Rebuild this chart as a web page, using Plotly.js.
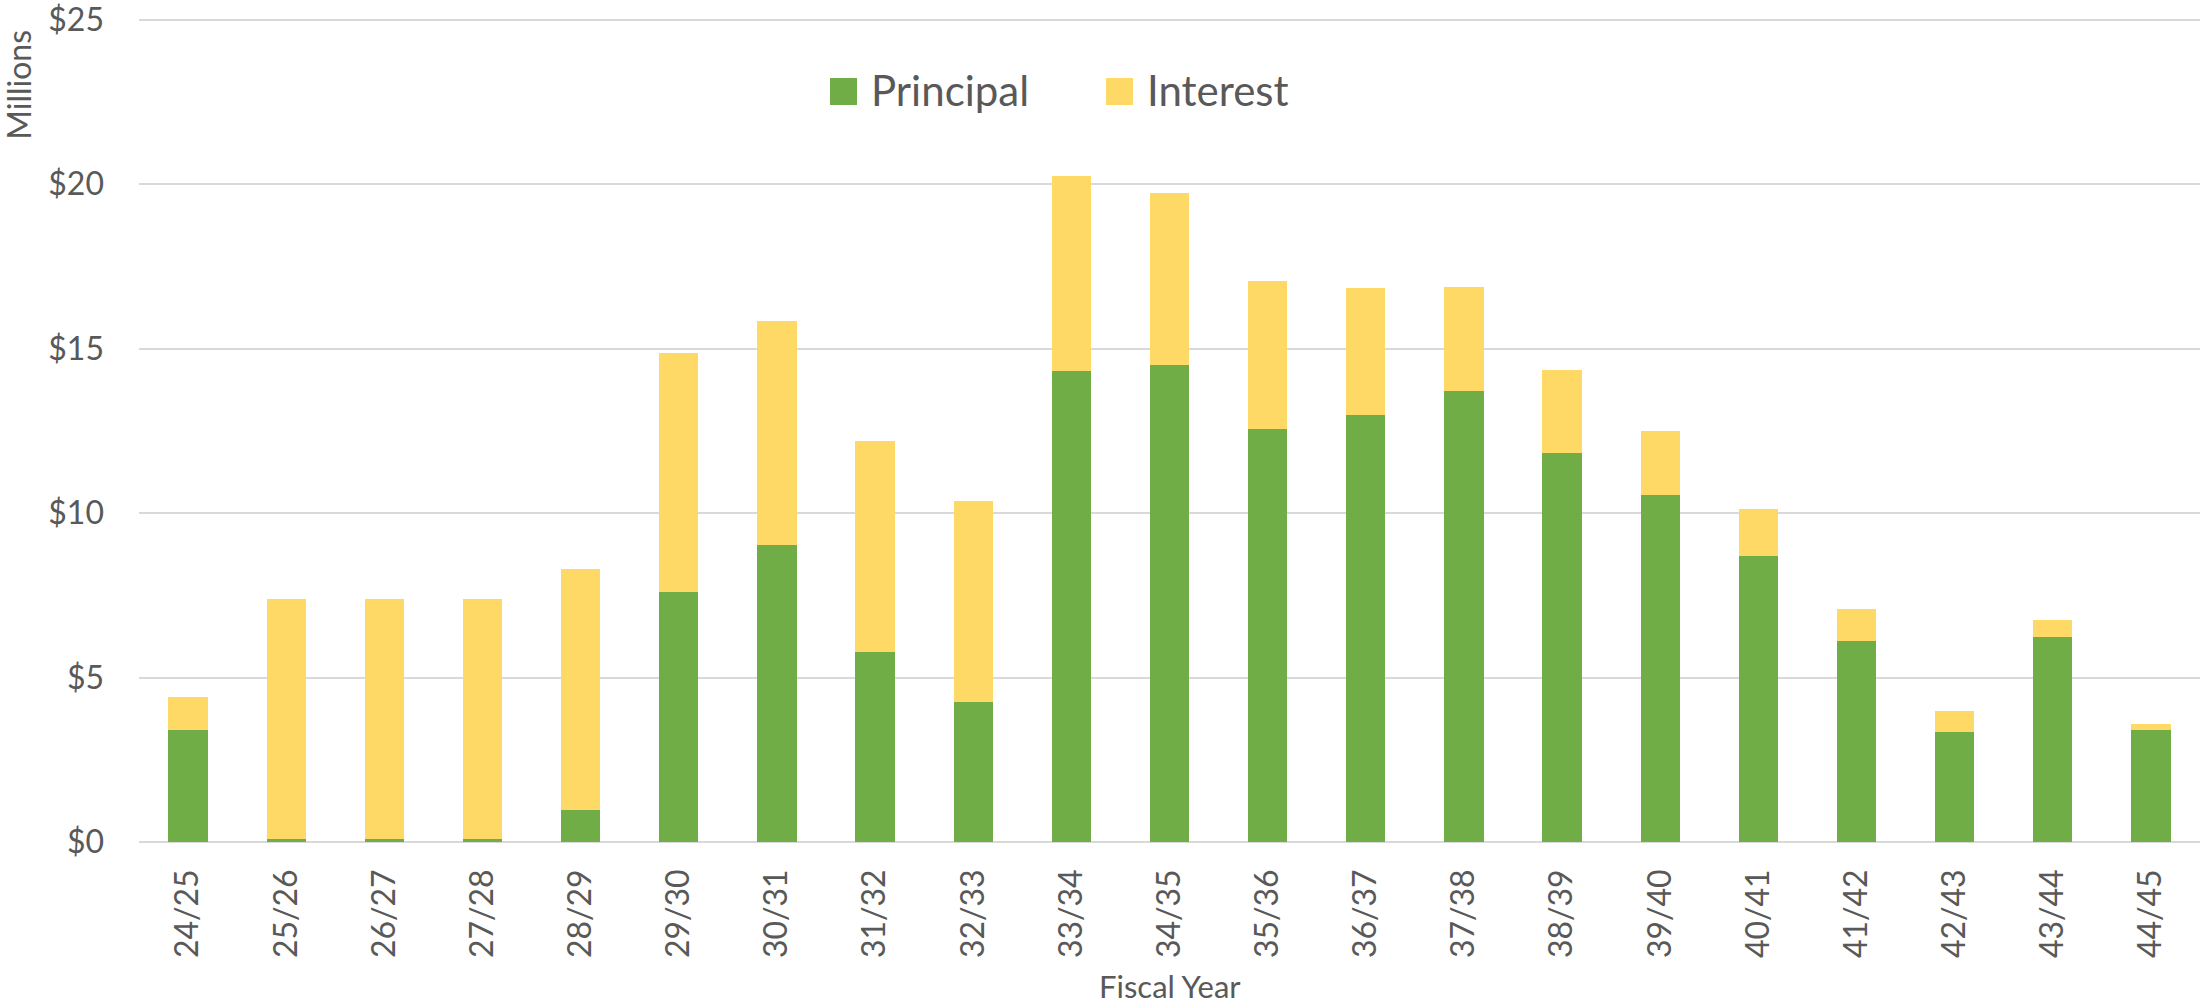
<!DOCTYPE html>
<html>
<head>
<meta charset="utf-8">
<script src="https://cdn.plot.ly/plotly-3.0.1.min.js"></script>
<style>html,body{margin:0;padding:0;background:#fff;}#chart{width:2203px;height:1004px;}</style>
</head>
<body>
<div id="chart"></div>
<script>
const fiscalYears = ["24/25","25/26","26/27","27/28","28/29","29/30","30/31","31/32","32/33","33/34","34/35","35/36","36/37","37/38","38/39","39/40","40/41","41/42","42/43","43/44","44/45"];
const principal = [3.42,0.1,0.1,0.1,0.98,7.6,9.02,5.77,4.27,14.32,14.49,12.56,12.99,13.72,11.84,10.56,8.68,6.11,3.33,6.24,3.42];
const interest  = [0.98,7.29,7.29,7.3,7.31,7.27,6.83,6.41,6.11,5.94,5.25,4.49,3.85,3.16,2.52,1.92,1.45,0.98,0.64,0.51,0.17];
const seriesNames = ["Principal","Interest"];
const seriesColors = ["#70AD47","#FFD966"];
const yTickVals = [0,5,10,15,20,25];
const yTickText = ["$0","$5","$10","$15","$20","$25"];

const FONT = "Lato, 'Open Sans', sans-serif";
const TXT = "#595959";

const traces = [
  {type:"bar", name:seriesNames[0], x:fiscalYears, y:principal, marker:{color:seriesColors[0], line:{width:0}}, showlegend:false, hoverinfo:"skip"},
  {type:"bar", name:seriesNames[1], x:fiscalYears, y:interest, marker:{color:seriesColors[1], line:{width:0}}, showlegend:false, hoverinfo:"skip"}
];

const layout = {
  width:2203, height:1004,
  margin:{l:139, r:3, t:18, b:162},
  paper_bgcolor:"#fff", plot_bgcolor:"#fff",
  barmode:"stack", bargap:0.6,
  font:{family:FONT, color:TXT, size:32},
  showlegend:false,
  xaxis:{type:"category", tickangle:-90, tickfont:{size:32, color:TXT, family:FONT},
         showgrid:false, showline:false, zeroline:false, ticks:"", ticklabelstandoff:20,
         range:[-0.5, fiscalYears.length-0.5], automargin:false, ticklabeloverflow:"allow"},
  yaxis:{range:[0,25.05], tickvals:yTickVals, ticktext:yTickText, showgrid:true, gridcolor:"#D9D9D9", gridwidth:2,
         zeroline:true, zerolinecolor:"#D9D9D9", zerolinewidth:2, showline:false, ticks:"",
         tickfont:{size:32, color:TXT, family:FONT}, ticklabelstandoff:34, automargin:false, ticklabeloverflow:"allow"},
  shapes:[
    {type:"rect", xref:"paper", yref:"paper", xsizemode:"pixel", ysizemode:"pixel", xanchor:0, yanchor:1,
     x0:691, x1:718, y0:-87, y1:-60, fillcolor:seriesColors[0], line:{width:0}},
    {type:"rect", xref:"paper", yref:"paper", xsizemode:"pixel", ysizemode:"pixel", xanchor:0, yanchor:1,
     x0:967, x1:994, y0:-87, y1:-60, fillcolor:seriesColors[1], line:{width:0}}
  ],
  annotations:[
    {text:seriesNames[0], xref:"paper", yref:"paper", x:0, y:1, xanchor:"left", yanchor:"middle", xshift:730, yshift:-72,
     showarrow:false, font:{size:42, color:TXT, family:FONT}},
    {text:seriesNames[1], xref:"paper", yref:"paper", x:0, y:1, xanchor:"left", yanchor:"middle", xshift:1006, yshift:-72,
     showarrow:false, font:{size:42, color:TXT, family:FONT}},
    {text:"Millions", textangle:-90, xref:"paper", yref:"paper", x:0, y:0.919, xanchor:"center", yanchor:"middle", xshift:-120,
     borderpad:0, showarrow:false, font:{size:32, color:TXT, family:FONT}},
    {text:"Fiscal Year", xref:"paper", yref:"paper", x:0.5, y:0, xanchor:"center", yanchor:"middle", yshift:-144,
     borderpad:0, showarrow:false, font:{size:31, color:TXT, family:FONT}}
  ]
};

Plotly.newPlot("chart", traces, layout, {displayModeBar:false, staticPlot:true});
</script>
</body>
</html>
